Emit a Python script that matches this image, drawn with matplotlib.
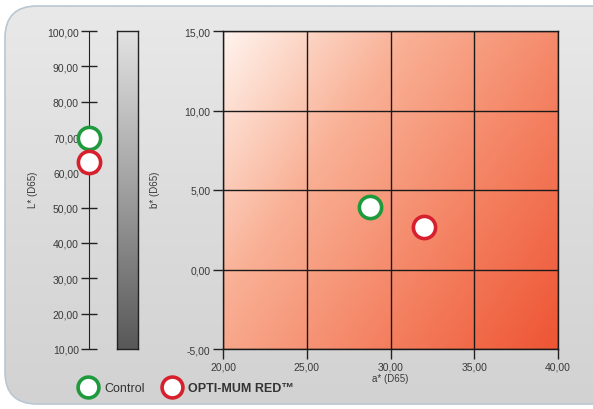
import numpy as np
import matplotlib.pyplot as plt
from matplotlib.colors import LinearSegmentedColormap
from matplotlib.patches import FancyBboxPatch

# values
samples = ['Control', 'OPTI-MUM RED\u2122']
colors = ['#1e9a3c', '#d7202e']
L_vals = [69.7, 62.9]
a_vals = [28.8, 32.0]
b_vals = [3.9, 2.7]

L_ticks = [10, 20, 30, 40, 50, 60, 70, 80, 90, 100]
a_ticks = [20, 25, 30, 35, 40]
b_ticks = [-5, 0, 5, 10, 15]


def fmt(v):
    return ('%.2f' % v).replace('.', ',')


plt.rcParams['font.family'] = ['Liberation Sans', 'DejaVu Sans']
txt = '#3a3a3a'

fig = plt.figure(figsize=(5.93, 4.10), dpi=100)
W, H = 593, 410

# silver panel in the background
bg = fig.add_axes([0, 0, 1, 1])
bg.set_xlim(0, W)
bg.set_ylim(H, 0)
bg.axis('off')
silver = LinearSegmentedColormap.from_list('silver', ['#e9e9e9', '#dcdcdc', '#d2d2d2'])
grad = np.linspace(0, 1, 256).reshape(-1, 1)
im = bg.imshow(grad, cmap=silver, extent=[5, W + 40, 405, 7], aspect='auto')
panel = FancyBboxPatch((5, 7), W + 40, 398, boxstyle='round,pad=0,rounding_size=32',
                       facecolor='none', edgecolor='#b9c7d2', lw=1.2)
bg.add_patch(panel)
im.set_clip_path(panel)

# L* scale
axL = fig.add_axes([89 / W, 60 / H, 0.001, 318 / H])
axL.set_ylim(10, 100)
axL.set_xlim(-1, 1)
for s in ['top', 'right', 'bottom']:
    axL.spines[s].set_visible(False)
axL.spines['left'].set_color('#222222')
axL.spines['left'].set_position(('data', 0))
axL.set_xticks([])
axL.set_yticks(L_ticks)
axL.set_yticklabels([fmt(v) for v in L_ticks], fontsize=7.5, color=txt)
axL.tick_params(axis='y', direction='inout', length=11, width=1, color='#222222', pad=2)
axL.patch.set_visible(False)
for L, c in zip(L_vals, colors):
    axL.plot(0, L, 'o', ms=16, mfc='white', mec=c, mew=2.6, clip_on=False, zorder=5)
fig.text(33 / W, 1 - 190 / H, 'L* (D65)', rotation=90, ha='center', va='center',
         fontsize=7, color=txt)

# gray b* bar
axB = fig.add_axes([117 / W, 60 / H, 21 / W, 318 / H])
gray = LinearSegmentedColormap.from_list('gray', ['#e2e2e2', '#a0a0a0', '#585858'])
axB.imshow(grad, cmap=gray, aspect='auto', extent=[0, 1, 1, 0])
axB.set_xticks([])
axB.set_yticks([])
for s in axB.spines.values():
    s.set_color('#222222')
    s.set_linewidth(1)
fig.text(155 / W, 1 - 190 / H, 'b* (D65)', rotation=90, ha='center', va='center',
         fontsize=7, color=txt)

# a*/b* chart
ax = fig.add_axes([223 / W, 60 / H, 335 / W, 318 / H])
reds = LinearSegmentedColormap.from_list('reds', ['#fff4ee', '#f9b095', '#f48262', '#ee5534'])
xx, yy = np.meshgrid(np.linspace(0, 1, 200), np.linspace(0, 1, 200))
ax.imshow(xx * 0.6 + yy * 0.4, cmap=reds, extent=[20, 40, -5, 15], aspect='auto',
          origin='upper', zorder=0)
ax.set_xlim(20, 40)
ax.set_ylim(-5, 15)
ax.set_xticks(a_ticks)
ax.set_yticks(b_ticks)
ax.set_xticklabels([fmt(v) for v in a_ticks], fontsize=7.5, color=txt)
ax.set_yticklabels([fmt(v) for v in b_ticks], fontsize=7.5, color=txt)
ax.tick_params(direction='out', length=7, width=1, color='#222222', pad=2)
ax.grid(True, color='#1a1a1a', lw=1)
ax.set_axisbelow(False)
for s in ax.spines.values():
    s.set_color('#1a1a1a')
    s.set_linewidth(1)
for a, b, c in zip(a_vals, b_vals, colors):
    ax.plot(a, b, 'o', ms=16, mfc='white', mec=c, mew=2.6, zorder=5)
ax.set_xlabel('a* (D65)', fontsize=7, color=txt, labelpad=1)

# legend at the bottom
leg_x = [88, 172]
text_x = [104, 188]
weights = ['normal', 'bold']
for cx, tx, c, lab, w in zip(leg_x, text_x, colors, samples, weights):
    bg.plot(cx, 388, 'o', ms=15, mfc='white', mec=c, mew=2.6)
    bg.text(tx, 389, lab, fontsize=9, color='#333333', ha='left', va='center',
            fontweight=w)

fig.savefig('out.png', dpi=100)
